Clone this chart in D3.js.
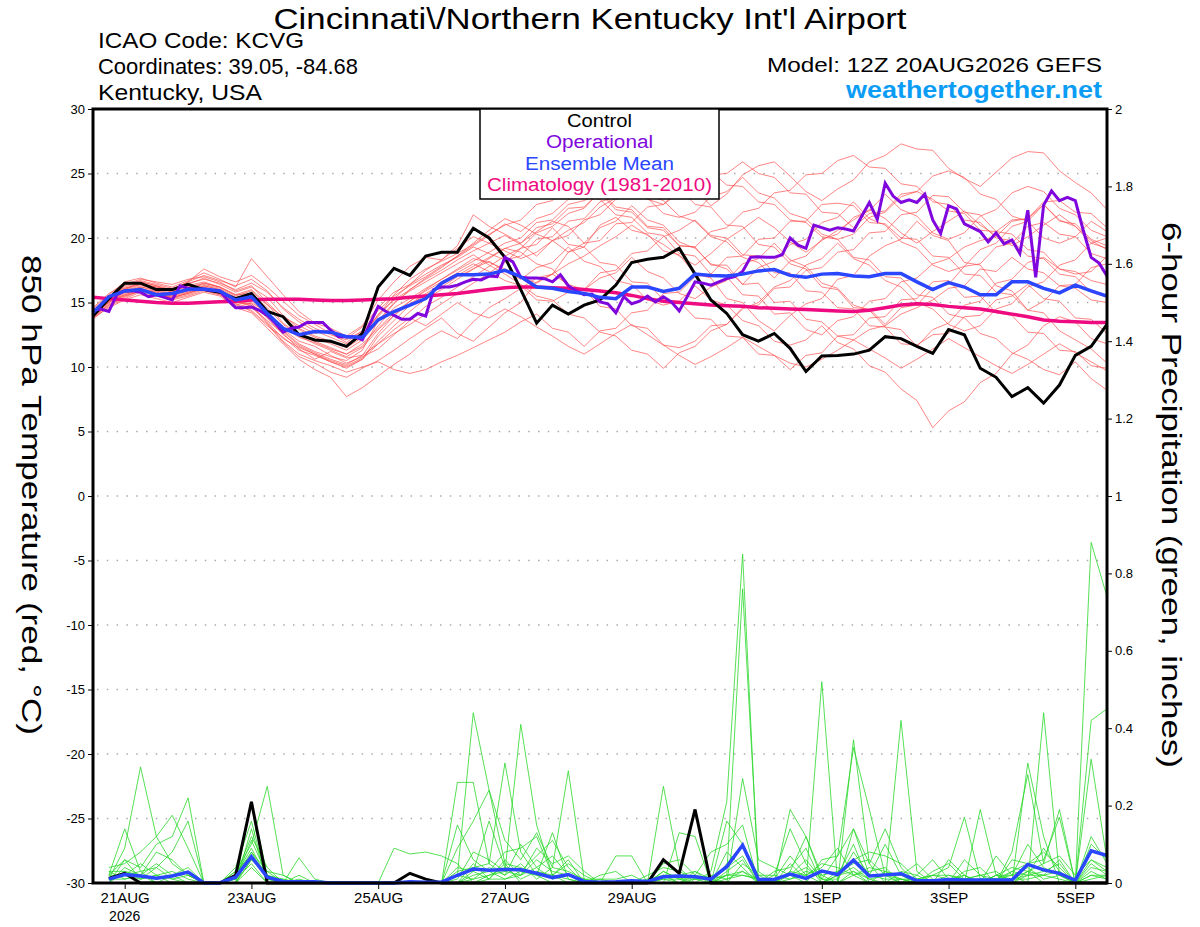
<!DOCTYPE html>
<html>
<head>
<meta charset="utf-8">
<script src="https://cdn.jsdelivr.net/npm/d3@7"></script>
<style>
body { margin: 0; background: #fff; }
text { font-family: "Liberation Sans", Arial, Helvetica, sans-serif; }
</style>
</head>
<body>
<script>
// run start and output step
var runStart = Date.UTC(2026, 7, 20, 12);
var stepHours = 6;
var opStepHours = 3;

// x axis labels (00Z of each day)
var xTickDates = ["2026-08-21", "2026-08-23", "2026-08-25", "2026-08-27", "2026-08-29", "2026-09-01", "2026-09-03", "2026-09-05"];
var xTickLabels = ["21AUG", "23AUG", "25AUG", "27AUG", "29AUG", "1SEP", "3SEP", "5SEP"];
var tempTicks = [-30, -25, -20, -15, -10, -5, 0, 5, 10, 15, 20, 25, 30];
var precipTicks = [0, 0.2, 0.4, 0.6, 0.8, 1, 1.2, 1.4, 1.6, 1.8, 2];

// 850 hPa temperature, 6-hourly from 12Z 20AUG (65 values)
var controlTemp = [13.95,15.3,16.5,16.5,16.0,16.0,16.4,16.0,15.8,15.3,15.7,14.3,13.9,12.5,12.1,12.0,11.6,12.6,
  16.2,17.65,17.1,18.6,18.9,18.9,20.75,20.0,18.5,16.0,13.4,14.8,14.1,14.8,15.2,16.35,18.1,18.35,18.5,19.2,
  17.2,15.2,14.15,12.5,12.0,12.6,11.45,9.65,10.85,10.9,11.0,11.3,12.35,12.2,11.6,11.05,12.9,12.5,9.9,9.2,
  7.7,8.4,7.2,8.6,10.9,11.6,13.3];

var meanTemp = [14.2,15.45,15.9,16.0,15.6,15.7,16.0,16.05,15.9,15.2,15.45,14.15,13.0,12.5,12.75,12.7,12.35,12.3,
  13.65,14.3,14.8,15.3,16.5,17.15,17.15,17.2,17.5,17.0,16.2,16.1,15.85,15.7,15.4,15.3,16.2,16.2,15.85,16.1,
  17.2,17.1,17.05,17.2,17.45,17.55,17.1,16.95,17.2,17.25,17.05,17.0,17.25,17.25,16.6,16.0,16.55,16.2,15.6,15.6,
  16.6,16.6,16.1,15.75,16.35,15.9,15.5];

var climoTemp = [15.4,15.3,15.2,15.1,15.0,14.95,14.95,15.0,15.05,15.1,15.2,15.25,15.25,15.25,15.2,15.15,15.15,15.2,
  15.25,15.3,15.4,15.5,15.6,15.7,15.85,16.0,16.15,16.2,16.2,16.15,16.1,16.0,15.9,15.75,15.55,15.3,15.1,15.0,
  14.9,14.8,14.75,14.7,14.6,14.55,14.5,14.45,14.4,14.35,14.3,14.4,14.6,14.8,14.9,14.85,14.7,14.6,14.5,14.3,
  14.1,13.9,13.65,13.55,13.5,13.45,13.45];

// operational run is 3-hourly (129 values)
var operationalTemp = [14.4,14.5,14.3,15.6,15.9,15.9,15.8,15.45,15.6,15.4,15.2,16.3,16.1,16.0,16.0,15.95,15.9,15.2,
  14.6,14.6,14.65,14.4,14.0,13.4,12.7,13.0,13.1,13.45,13.45,13.45,12.85,12.35,12.35,12.35,12.1,13.4,14.7,14.3,
  14.0,13.7,13.7,14.15,13.95,16.0,16.2,16.2,16.35,16.6,16.8,16.75,17.05,17.0,18.5,18.15,16.95,16.9,16.9,16.85,
  16.6,17.15,16.3,15.9,15.6,15.65,15.05,14.9,14.2,15.45,14.9,15.1,15.5,15.05,15.45,15.05,14.35,15.45,16.6,16.5,
  16.35,16.6,16.85,17.0,17.4,18.5,18.55,18.5,18.5,18.7,20.0,19.45,19.2,21.0,20.8,20.6,20.8,20.7,20.55,21.65,
  22.75,21.45,24.25,23.25,22.75,22.95,22.75,23.4,21.4,20.35,22.5,22.25,21.1,20.8,20.5,19.7,20.4,19.55,19.85,18.8,
  22.15,16.95,22.55,23.65,22.9,23.15,22.9,20.6,18.5,18.05,17.05];

// ensemble members
var memberTemp = [
  [14.2,15.3,16.0,16.4,16.1,15.9,16.3,16.6,16.2,15.5,15.9,14.8,13.9,13.2,12.6,12.9,12.2,13.1,14.6,15.8,16.4,17.5,18.3,19.2,20.1,19.6,19.0,
   18.4,18.9,19.8,20.6,21.2,22.4,23.1,24.7,24.2,25.4,24.6,23.8,22.5,23.4,24.9,25.6,25.9,24.8,23.6,22.9,23.8,24.5,25.9,26.4,27.3,26.9,26.8,25.4,24.6,24.0,25.1,26.2,26.7,26.6,25.2,24.3,23.5,22.2],
  [14.0,15.0,15.8,16.2,16.0,15.7,15.9,16.3,16.0,15.2,15.0,14.2,13.1,12.3,11.9,11.4,11.0,11.6,13.2,14.6,15.3,16.1,16.8,17.6,18.4,18.1,17.6,
   17.0,16.5,17.2,18.0,18.6,19.4,20.1,21.0,20.2,19.5,18.6,17.9,18.8,19.9,20.7,21.6,20.8,19.7,18.9,19.8,20.6,21.4,22.2,21.5,20.4,19.6,20.5,21.3,22.1,21.0,20.2,19.4,20.1,21.0,21.8,20.9,19.8,19.1],
  [13.8,14.6,15.2,15.6,15.3,15.0,15.4,15.8,15.5,14.6,14.2,13.0,11.8,10.6,9.8,9.2,7.7,8.4,9.3,10.2,11.0,12.1,12.8,12.2,13.5,14.6,15.3,
   16.1,16.9,17.2,16.4,16.0,16.9,17.3,18.5,17.4,16.9,15.7,15.3,16.2,16.7,18.0,18.4,19.6,18.3,17.8,16.5,16.1,14.8,14.4,13.1,12.9,11.6,12.9,13.4,14.8,15.1,16.5,16.8,18.1,18.5,17.6,17.2,17.4,18.6],
  [14.5,15.6,16.6,16.9,16.5,16.2,16.7,17.3,16.8,16.2,18.4,17.0,15.6,14.3,13.4,13.0,12.4,13.2,15.2,16.6,17.8,18.5,18.3,19.4,21.8,20.9,20.3,
   19.6,20.5,21.3,20.9,19.6,20.8,21.3,22.5,21.4,21.0,19.7,19.2,18.0,17.6,16.4,17.7,18.2,19.5,19.9,21.2,21.6,22.8,21.5,21.0,19.7,19.2,17.9,17.4,17.8,19.1,19.6,20.9,21.3,22.6,21.4,20.9,19.6,19.2],
  [14.1,15.1,15.5,15.9,15.8,15.3,15.8,16.0,15.7,14.9,14.6,13.6,12.6,11.4,10.6,11.2,10.7,10.9,11.8,12.9,13.8,13.2,14.1,15.0,14.2,13.8,14.5,
   13.9,13.1,12.4,11.6,11.0,11.8,12.6,13.3,12.5,11.7,10.9,10.2,10.8,11.5,12.3,11.6,10.9,10.3,10.0,10.6,11.3,12.1,11.4,10.7,9.9,10.6,11.4,12.2,11.5,10.8,10.1,9.5,10.2,11.0,11.8,11.1,10.4,9.7],
  [14.3,15.2,15.9,16.1,15.6,15.5,16.0,16.2,15.8,15.0,14.8,13.5,12.2,11.5,11.0,10.4,9.9,10.6,12.4,13.6,14.8,15.6,16.2,17.0,17.6,18.2,17.4,
   16.8,17.7,18.1,19.3,18.2,17.8,16.7,16.4,15.2,14.8,15.1,16.3,15.2,14.8,13.6,13.2,12.0,11.7,12.1,13.2,11.9,11.4,10.1,9.6,8.3,7.4,5.3,6.6,7.3,8.8,9.5,11.0,11.7,13.2,13.9,13.5,12.2,11.8],
  [14.0,15.4,16.2,16.6,16.3,15.8,16.4,16.9,16.4,15.8,16.2,15.4,14.0,13.0,12.4,12.0,11.5,12.3,14.1,15.2,16.0,16.8,17.5,18.3,19.0,19.6,20.2,
   19.5,18.6,19.8,20.2,21.4,21.8,23.0,23.4,23.1,21.9,21.6,22.0,23.2,23.6,24.7,23.5,23.1,21.9,21.5,20.3,19.9,20.3,21.6,22.0,23.2,23.6,24.8,25.2,24.7,23.4,23.0,21.7,21.3,20.0,19.6,20.1,21.3,20.5],
  [13.9,14.9,15.6,16.0,15.9,15.6,16.1,16.4,16.1,15.4,15.6,14.4,12.8,11.8,11.2,10.8,10.5,11.3,13.6,15.0,15.9,16.6,17.3,18.0,18.7,17.9,17.2,
   16.4,15.5,15.2,14.1,13.8,12.7,12.4,11.3,11.0,9.9,11.1,11.6,12.8,13.3,14.5,15.0,16.2,16.7,17.9,18.4,19.6,18.4,17.9,16.7,16.2,15.0,14.5,13.3,12.8,13.2,14.5,14.9,16.2,16.6,17.9,18.3,19.6,20.0],
  [14.4,15.5,16.1,16.5,16.2,16.0,16.6,17.6,17.0,16.6,17.1,16.2,15.1,14.0,13.3,12.6,11.9,12.8,14.4,15.5,16.3,17.0,17.8,18.6,19.4,20.2,21.1,
   20.5,21.5,21.9,23.0,23.4,24.6,24.7,24.4,23.3,22.9,21.7,21.3,20.1,19.7,18.5,18.1,16.9,18.2,18.6,19.9,20.3,21.6,22.1,23.4,22.2,21.7,20.4,19.9,20.4,21.7,22.2,23.5,24.0,23.6,22.3,21.8,20.6,20.1],
  [14.2,15.0,15.7,16.1,15.7,15.4,15.7,16.1,15.9,15.1,14.9,13.9,12.9,12.0,11.6,10.9,10.3,10.8,11.4,12.5,13.6,14.7,15.4,16.2,17.0,17.8,18.6,
   19.2,20.4,20.9,21.9,22.3,23.6,23.9,24.8,25.4,24.1,23.9,22.6,22.4,21.0,20.9,19.5,19.3,18.0,17.6,16.2,16.0,14.6,14.5,13.3,14.6,14.8,16.1,16.4,17.8,18.0,19.3,19.6,20.9,21.2,20.3,20.1,18.8,18.4],
  [13.7,14.7,15.3,15.8,15.5,15.2,15.5,15.9,15.6,14.8,14.4,13.3,11.9,10.8,10.3,9.6,9.2,9.9,10.5,11.3,12.2,13.0,13.8,12.6,12.0,13.1,14.2,
   15.0,16.6,17.2,18.9,19.3,21.0,21.6,20.6,20.3,19.0,18.7,17.2,16.9,15.3,15.0,13.6,12.8,14.0,14.9,15.3,16.8,17.1,18.6,19.4,19.9,21.3,20.2,19.8,18.1,17.9,16.3,15.9,14.4,14.2,12.8,12.1,11.4,10.3],
  [14.3,15.3,16.3,16.7,16.4,16.1,16.5,16.8,16.5,16.0,16.5,15.8,14.6,13.7,13.0,12.5,12.1,12.8,13.9,15.3,16.4,17.2,17.9,18.5,19.3,18.8,18.3,
   18.6,19.9,20.1,21.3,21.5,22.8,23.2,24.0,23.0,22.6,23.5,23.7,24.9,25.0,25.9,25.0,24.7,23.5,23.4,22.0,21.9,20.8,21.9,22.1,23.4,23.6,23.0,22.1,21.9,20.6,20.5,21.4,21.5,22.8,22.9,22.0,21.9,20.8],
  [14.0,15.0,15.9,16.3,16.1,15.8,16.0,16.5,16.2,15.6,16.0,14.9,13.4,12.5,12.0,11.5,11.0,11.8,13.0,14.2,15.1,15.9,16.6,17.3,18.0,17.4,16.7,
   16.3,15.2,15.1,15.8,16.0,17.3,17.5,18.8,19.0,20.1,20.6,21.4,20.2,20.0,18.7,18.6,17.3,17.3,15.9,15.8,14.6,14.5,13.2,13.1,11.8,11.7,12.5,12.6,13.9,14.0,15.2,15.5,16.4,15.3,15.1,13.8,13.7,12.6],
  [14.1,15.2,15.8,16.2,15.9,15.6,15.9,16.2,15.8,15.1,14.7,13.4,12.0,11.0,10.5,10.1,9.6,10.0,10.4,9.8,9.5,9.8,10.4,10.9,11.5,12.1,12.7,
   13.5,14.1,13.0,12.7,11.6,12.8,13.0,14.2,14.4,15.7,15.8,17.0,17.2,18.5,18.6,19.9,20.0,21.3,21.3,22.6,22.7,22.5,21.2,21.1,20.0,19.9,18.6,18.5,17.2,17.1,15.8,15.6,14.4,15.1,16.3,16.4,17.7,18.0],
  [14.4,15.4,16.0,16.6,16.3,16.0,16.6,17.1,16.7,16.3,16.8,15.9,14.5,13.5,12.8,12.3,11.8,12.5,14.0,15.6,16.8,17.6,18.2,18.8,19.5,20.3,21.0,
   21.4,22.6,22.9,24.1,23.2,23.0,21.8,21.6,20.4,20.2,18.8,18.6,17.2,17.0,15.6,15.5,14.1,14.2,12.9,12.5,13.6,13.9,15.1,15.3,16.6,16.9,18.0,18.4,19.3,19.8,20.1,21.3,21.5,22.6,21.3,21.1,19.9,19.4],
  [13.9,14.8,15.4,15.9,15.7,15.3,15.6,16.0,15.6,14.9,14.3,13.2,12.3,11.3,10.9,10.4,10.0,10.6,11.8,12.6,13.3,14.1,14.9,15.7,16.5,17.3,18.1,
   19.2,19.5,20.8,19.5,19.3,18.1,17.9,16.6,16.5,15.2,15.1,13.8,13.7,12.4,12.3,11.0,10.9,9.8,10.9,11.1,12.4,12.5,13.8,13.9,15.2,15.3,16.6,16.7,15.4,15.5,14.2,14.0,12.7,12.6,11.3,11.2,10.1,9.9],
  [14.6,15.7,16.4,16.8,16.6,16.4,16.8,17.0,16.6,15.9,16.3,15.0,13.8,12.9,12.3,11.8,11.3,12.1,13.5,14.9,16.0,16.9,17.7,18.6,19.6,20.6,21.5,
   21.0,20.3,19.8,18.9,19.6,19.8,21.1,21.2,22.4,22.6,23.8,24.0,25.2,24.1,24.0,22.8,22.6,21.4,21.2,20.1,19.9,18.5,18.3,17.0,16.9,15.6,15.4,14.1,13.8,12.6,12.2,11.1,10.6,9.8,9.4,10.4,9.1,8.2],
  [14.2,15.1,15.6,16.0,15.8,15.5,15.8,16.3,16.0,15.3,15.2,14.0,12.7,11.7,11.1,10.6,10.2,10.9,12.6,14.0,15.1,16.0,16.8,17.5,18.2,18.9,19.6,
   20.0,21.2,21.4,22.6,22.9,23.5,22.2,22.0,20.8,20.6,19.4,19.3,20.5,20.8,22.0,22.3,23.5,23.7,24.9,25.0,26.0,26.4,25.5,25.4,24.2,24.0,22.8,22.6,21.4,21.2,20.0,19.8,18.6,18.4,17.2,17.0,15.8,15.4],
  [13.8,14.8,15.5,15.9,15.6,15.4,15.7,16.1,15.7,15.0,14.9,13.8,12.5,11.6,11.0,10.5,10.1,10.7,12.0,13.2,14.3,15.3,16.0,16.8,17.6,18.4,19.2,
   18.9,18.0,17.6,16.2,16.0,14.7,14.5,13.2,13.0,11.7,11.5,12.0,13.2,13.3,14.6,14.8,16.1,16.2,17.5,17.7,18.9,19.1,20.4,20.5,21.8,22.0,23.3,23.2,22.0,21.8,20.5,20.3,19.1,18.9,17.6,17.4,16.7,16.4],
  [14.3,15.3,16.1,16.4,16.2,15.9,16.2,16.5,16.2,15.6,15.7,14.6,13.3,12.4,11.8,11.3,10.8,11.5,12.9,14.0,14.9,15.7,16.4,17.1,17.8,18.5,19.2,
   19.6,20.8,21.1,22.3,22.4,23.6,22.4,22.2,20.9,20.8,19.4,19.3,17.9,17.9,16.4,16.5,15.0,15.1,13.7,13.5,12.4,12.1,12.9,13.2,14.1,14.6,15.2,16.1,16.3,17.6,17.4,18.5,17.6,17.3,16.3,16.1,15.2,15.0]
];

// 6-hour precipitation, from 18Z 20AUG (64 values)
var controlPrecip = [0.012,0.025,0,0,0,0,0,0, 0.02,0.21,0,0,0,0,0,0, 0,0,0,0.025,0.01,0,0,0, 0,0,0,0,0,0,0,0,
  0,0,0,0.06,0.025,0.19,0,0, 0,0,0,0,0,0,0,0, 0,0,0,0,0,0,0,0, 0,0,0,0,0,0,0,0];

var meanPrecip = [0.01,0.022,0.018,0.012,0.018,0.028,0,0, 0.015,0.068,0.015,0.004,0.003,0.003,0,0,
  0,0,0,0.003,0.002,0.002,0.02,0.036, 0.033,0.035,0.034,0.025,0.014,0.022,0.004,0.002,
  0.003,0.006,0.004,0.016,0.018,0.016,0.01,0.042, 0.098,0.009,0.009,0.023,0.012,0.031,0.022,0.059,
  0.018,0.021,0.024,0.006,0.006,0.009,0.008,0.008, 0.008,0.008,0.048,0.034,0.025,0.007,0.083,0.071];

var memberPrecip = [
  [0.02,0.14,0.03,0,0,0,0,0, 0,0.21,0.02,0,0,0,0,0, 0,0,0,0,0,0,0.02,0.44, 0.24,0.05,0,0,0,0,0,0,
   0,0,0,0,0,0,0.03,0.21, 0.85,0,0,0,0,0.52,0,0.02, 0,0,0,0,0,0,0,0, 0,0,0.03,0,0,0,0.88,0.74],
  [0.01,0.09,0.3,0.12,0.05,0.02,0,0, 0.03,0.1,0.25,0.02,0,0,0,0, 0,0,0,0,0,0,0.26,0.26, 0.05,0.31,0.08,0.02,0,0,0,0,
   0,0,0,0.25,0.04,0,0,0.02, 0.76,0.03,0,0.19,0.12,0.01,0,0.37, 0.05,0,0.42,0.03,0,0,0,0.19, 0.02,0,0.31,0.12,0,0,0.42,0.45],
  [0.04,0.05,0.08,0.12,0.175,0.09,0,0, 0,0.08,0.01,0,0.065,0.01,0,0, 0,0,0.09,0.075,0.08,0.07,0.05,0, 0.02,0.03,0.41,0.15,0.02,0,0,0,
   0.07,0.07,0,0,0.13,0.12,0,0, 0.27,0.06,0.04,0.02,0,0.06,0.07,0.35, 0.19,0.02,0,0,0,0,0.06,0.02, 0,0.08,0.28,0.05,0.19,0,0.32,0.06],
  [0,0.06,0.04,0.1,0.12,0.22,0,0, 0,0.06,0.03,0.02,0,0,0,0, 0,0,0,0,0,0,0.09,0.16, 0.24,0.11,0.06,0.13,0.04,0.29,0.01,0,
   0,0,0,0.03,0.01,0,0,0.16, 0.1,0,0,0,0,0,0,0.14, 0.05,0.14,0.04,0,0,0,0.02,0, 0.07,0.02,0,0.44,0.02,0,0,0],
  [0.02,0.02,0.01,0.04,0.08,0.16,0,0, 0.02,0.12,0.04,0,0,0,0,0, 0,0,0,0,0,0,0.15,0.06, 0.03,0.08,0.09,0.12,0.02,0.06,0,0,
   0,0,0,0.05,0.06,0.02,0.08,0.1, 0.15,0,0.02,0.14,0.05,0,0.03,0.06, 0.08,0.07,0.05,0.01,0.02,0.04,0.17,0.01, 0,0.03,0.05,0.06,0.17,0,0.12,0.05],
  [0,0.04,0.02,0,0.02,0.03,0,0, 0.04,0.16,0,0,0,0,0,0, 0,0,0,0,0,0,0.04,0.03, 0.16,0.04,0.03,0.07,0.11,0.04,0,0,
   0,0,0.02,0.04,0.03,0.01,0,0.05, 0.1,0.02,0,0.03,0.12,0.02,0,0.03, 0.01,0.02,0.01,0,0,0.06,0.02,0, 0.02,0.02,0.1,0.04,0.02,0,0.1,0.06],
  [0.03,0.03,0.02,0.05,0.02,0,0,0, 0,0.14,0,0,0,0,0,0, 0,0,0,0,0,0,0,0.02, 0.03,0.01,0.02,0.09,0.05,0.07,0.03,0,
   0,0,0,0,0,0.02,0,0.08, 0.04,0,0,0.02,0.04,0.01,0.07,0.14, 0.02,0.1,0.02,0,0.03,0.05,0.01,0.02, 0.03,0,0.02,0.02,0.06,0,0.02,0.01],
  [0.01,0.01,0.02,0.08,0.06,0.02,0,0, 0.01,0.11,0.02,0,0.02,0,0,0, 0,0,0,0,0,0,0.03,0.04, 0.05,0.02,0.1,0.04,0.07,0.02,0,0.02,
   0.03,0,0.01,0.02,0,0.03,0.01,0.02, 0.03,0.01,0.01,0.07,0.02,0.04,0.09,0.02, 0.03,0.04,0,0.02,0.06,0.01,0,0, 0.02,0.04,0.03,0.05,0.07,0.02,0.06,0.03],
  [0.02,0.06,0.01,0.02,0.03,0.01,0,0, 0.02,0.09,0.01,0.01,0,0,0,0, 0,0,0,0,0,0,0,0.03, 0.01,0.05,0.04,0.02,0.13,0.01,0,0,
   0,0,0,0.02,0.02,0.03,0,0.03, 0.06,0,0.03,0.04,0.09,0,0.02,0.1, 0,0.03,0.02,0.05,0.01,0,0.03,0.04, 0,0.06,0.05,0.08,0.04,0,0.05,0.02],
  [0.01,0.02,0.03,0.04,0.01,0.02,0,0, 0.03,0.07,0.01,0,0,0,0,0, 0,0,0,0,0,0,0.01,0.08, 0.06,0.03,0.02,0.06,0.03,0.02,0,0.01,
   0,0,0,0.01,0.01,0.02,0.01,0, 0.05,0.02,0.02,0.01,0.03,0.02,0.03,0.05, 0.06,0.02,0.02,0.01,0,0.02,0.01,0.02, 0.01,0.01,0.03,0.02,0.03,0,0.06,0.04],
  [0,0.03,0.01,0.02,0,0,0,0, 0.01,0.05,0,0,0,0,0,0, 0,0,0,0,0,0,0,0.01, 0.02,0.04,0.01,0.03,0.02,0.05,0.02,0,
   0,0,0,0,0,0,0,0.02, 0.02,0.01,0,0.05,0.01,0.03,0.02,0.04, 0.01,0,0.03,0.02,0,0,0,0.01, 0.01,0.02,0.04,0.01,0.02,0,0.03,0.01],
  [0.03,0.01,0.02,0.01,0.02,0.04,0,0, 0,0.06,0.02,0.01,0,0,0,0, 0,0,0,0,0,0,0.02,0.01, 0.04,0.02,0.05,0.01,0.04,0.03,0.01,0.01,
   0.01,0.02,0,0.03,0.01,0.01,0.02,0.01, 0.03,0,0.01,0.02,0.06,0.01,0.01,0.08, 0.02,0.01,0.01,0,0.02,0.01,0.02,0, 0.02,0.01,0.02,0.09,0.03,0,0.02,0.02],
  [0,0,0,0,0,0,0,0, 0,0.04,0,0,0,0,0,0, 0,0,0,0,0,0,0,0, 0.01,0.01,0.03,0.02,0.02,0.01,0,0,
   0,0,0,0.01,0,0,0,0.01, 0.02,0.01,0,0.01,0.02,0,0.02,0.03, 0,0,0.01,0,0,0,0,0, 0,0.01,0.01,0.02,0.01,0,0.01,0.02],
  [0.01,0.02,0.05,0.02,0.01,0,0,0, 0.02,0.08,0.03,0,0.01,0,0,0, 0,0,0,0,0,0,0,0.05, 0.01,0.06,0.02,0.04,0.01,0.02,0.01,0,
   0,0,0,0.02,0,0.01,0.01,0.04, 0.07,0,0,0.03,0.02,0.05,0.04,0.02, 0.04,0.03,0.01,0.01,0.02,0.02,0.01,0.01, 0.01,0.03,0.02,0.03,0.05,0,0.04,0.03]
];

var w = 1200;
var h = 927;
var plotLeft = 93, plotRight = 1107, plotTop = 109, plotBottom = 883;

var svg = d3.select("body").append("svg")
    .attr("width", w)
    .attr("height", h);

svg.append("rect").attr("width", w).attr("height", h).attr("fill", "white");

var x = d3.scaleUtc()
    .domain([new Date(runStart), new Date(runStart + 16 * 24 * 3600 * 1000)])
    .range([plotLeft, plotRight]);
var yT = d3.scaleLinear().domain([-30, 30]).range([plotBottom, plotTop]);
var yP = d3.scaleLinear().domain([0, 2]).range([plotBottom, plotTop]);

function timeAt(i, hours) {
    return new Date(runStart + i * hours * 3600 * 1000);
}

// dotted grid at temperature ticks
svg.append("g").selectAll("line")
    .data(tempTicks.filter(function(d) { return d > -30 && d < 30; }))
    .enter()
    .append("line")
    .attr("x1", plotLeft + 4)
    .attr("x2", plotRight)
    .attr("y1", function(d) { return yT(d); })
    .attr("y2", function(d) { return yT(d); })
    .attr("stroke", "#aaa")
    .attr("stroke-width", 1.5)
    .attr("stroke-dasharray", "1.5,8.3");

var tempLine = d3.line()
    .x(function(d, i) { return x(timeAt(i, stepHours)); })
    .y(function(d) { return yT(d); });
var opLine = d3.line()
    .x(function(d, i) { return x(timeAt(i, opStepHours)); })
    .y(function(d) { return yT(d); });
var precipLine = d3.line()
    .x(function(d, i) { return x(timeAt(i + 1, stepHours)); })
    .y(function(d) { return yP(d); });

svg.append("g").selectAll("path")
    .data(memberTemp)
    .enter()
    .append("path")
    .attr("d", tempLine)
    .attr("fill", "none")
    .attr("stroke", "#ff4a4a")
    .attr("stroke-opacity", 0.85)
    .attr("stroke-width", 0.8);

svg.append("g").selectAll("path")
    .data(memberPrecip)
    .enter()
    .append("path")
    .attr("d", precipLine)
    .attr("fill", "none")
    .attr("stroke", "#2ad82a")
    .attr("stroke-width", 0.8);

svg.append("path")
    .datum(climoTemp)
    .attr("d", tempLine)
    .attr("fill", "none")
    .attr("stroke", "#ee0a80")
    .attr("stroke-width", 3.5);

svg.append("path")
    .datum(controlTemp)
    .attr("d", tempLine)
    .attr("fill", "none")
    .attr("stroke", "black")
    .attr("stroke-width", 3);

svg.append("path")
    .datum(operationalTemp)
    .attr("d", opLine)
    .attr("fill", "none")
    .attr("stroke", "#7f06dd")
    .attr("stroke-width", 3);

svg.append("path")
    .datum(meanTemp)
    .attr("d", tempLine)
    .attr("fill", "none")
    .attr("stroke", "#2a46ff")
    .attr("stroke-width", 3.5);

svg.append("path")
    .datum(controlPrecip)
    .attr("d", precipLine)
    .attr("fill", "none")
    .attr("stroke", "black")
    .attr("stroke-width", 3);

svg.append("path")
    .datum(meanPrecip)
    .attr("d", precipLine)
    .attr("fill", "none")
    .attr("stroke", "#2a46ff")
    .attr("stroke-width", 3.5);

// axes
var axisL = svg.append("g")
    .attr("transform", "translate(" + plotLeft + ",0)")
    .call(d3.axisLeft(yT).tickValues(tempTicks).tickSize(5).tickPadding(3)
        .tickFormat(function(d) { return String(d); }));
var axisR = svg.append("g")
    .attr("transform", "translate(" + plotRight + ",0)")
    .call(d3.axisRight(yP).tickValues(precipTicks).tickSize(5).tickPadding(3)
        .tickFormat(function(d) { return String(d); }));
var axisB = svg.append("g")
    .attr("transform", "translate(0," + plotBottom + ")")
    .call(d3.axisBottom(x)
        .tickValues(xTickDates.map(function(d) { return new Date(d + "T00:00:00Z"); }))
        .tickSize(6).tickPadding(3)
        .tickFormat(function(d, i) { return xTickLabels[i]; }));

[axisL, axisR, axisB].forEach(function(g) {
    g.select(".domain").remove();
    g.selectAll("text").attr("font-size", 13).attr("fill", "black")
        .attr("font-family", "'Liberation Sans', Arial, sans-serif");
    g.selectAll("line").attr("stroke", "black");
});
axisB.selectAll("text").attr("font-size", 15);

svg.append("text")
    .attr("x", x(new Date(xTickDates[0] + "T00:00:00Z")))
    .attr("y", 921)
    .attr("text-anchor", "middle")
    .attr("font-size", 14)
    .text("2026");

// frame
svg.append("rect")
    .attr("x", plotLeft)
    .attr("y", plotTop)
    .attr("width", plotRight - plotLeft)
    .attr("height", plotBottom - plotTop)
    .attr("fill", "none")
    .attr("stroke", "black")
    .attr("stroke-width", 3);

// legend
var legendNames = ["Control", "Operational", "Ensemble Mean", "Climatology (1981-2010)"];
var legendColors = ["black", "#7f06dd", "#2a46ff", "#ee0a80"];
var legendWidths = [65, 107, 149, 225];
svg.append("rect")
    .attr("x", 480)
    .attr("y", plotTop)
    .attr("width", 239)
    .attr("height", 90)
    .attr("fill", "white")
    .attr("stroke", "black")
    .attr("stroke-width", 1.5);
svg.append("g").selectAll("text")
    .data(legendNames)
    .enter()
    .append("text")
    .attr("x", 599.5)
    .attr("y", function(d, i) { return 127 + i * 21.3; })
    .attr("text-anchor", "middle")
    .attr("font-size", 18)
    .attr("textLength", function(d, i) { return legendWidths[i]; })
    .attr("lengthAdjust", "spacingAndGlyphs")
    .attr("fill", function(d, i) { return legendColors[i]; })
    .text(function(d) { return d; });

// titles
svg.append("text")
    .attr("x", 590)
    .attr("y", 29)
    .attr("text-anchor", "middle")
    .attr("font-size", 30)
    .attr("textLength", 633)
    .attr("lengthAdjust", "spacingAndGlyphs")
    .text("Cincinnati\\/Northern Kentucky Int'l Airport");

var infoLines = ["ICAO Code: KCVG", "Coordinates: 39.05, -84.68", "Kentucky, USA"];
var infoWidths = [206, 260, 164];
svg.append("g").selectAll("text")
    .data(infoLines)
    .enter()
    .append("text")
    .attr("x", 98)
    .attr("y", function(d, i) { return 48 + i * 26; })
    .attr("font-size", 22)
    .attr("textLength", function(d, i) { return infoWidths[i]; })
    .attr("lengthAdjust", "spacingAndGlyphs")
    .text(function(d) { return d; });

svg.append("text")
    .attr("x", 1102)
    .attr("y", 72)
    .attr("text-anchor", "end")
    .attr("font-size", 21)
    .attr("textLength", 335)
    .attr("lengthAdjust", "spacingAndGlyphs")
    .text("Model: 12Z 20AUG2026 GEFS");

svg.append("text")
    .attr("x", 1102)
    .attr("y", 98)
    .attr("text-anchor", "end")
    .attr("font-size", 24)
    .attr("font-weight", "bold")
    .attr("fill", "#0b9df5")
    .attr("textLength", 256)
    .attr("lengthAdjust", "spacingAndGlyphs")
    .text("weathertogether.net");

svg.append("text")
    .attr("transform", "translate(22,495) rotate(90)")
    .attr("text-anchor", "middle")
    .attr("font-size", 28)
    .attr("textLength", 480)
    .attr("lengthAdjust", "spacingAndGlyphs")
    .text("850 hPa Temperature (red, \u00B0C)");

svg.append("text")
    .attr("transform", "translate(1162,495) rotate(90)")
    .attr("text-anchor", "middle")
    .attr("font-size", 28)
    .attr("textLength", 546)
    .attr("lengthAdjust", "spacingAndGlyphs")
    .text("6-hour Precipitation (green, inches)");
</script>
</body>
</html>
